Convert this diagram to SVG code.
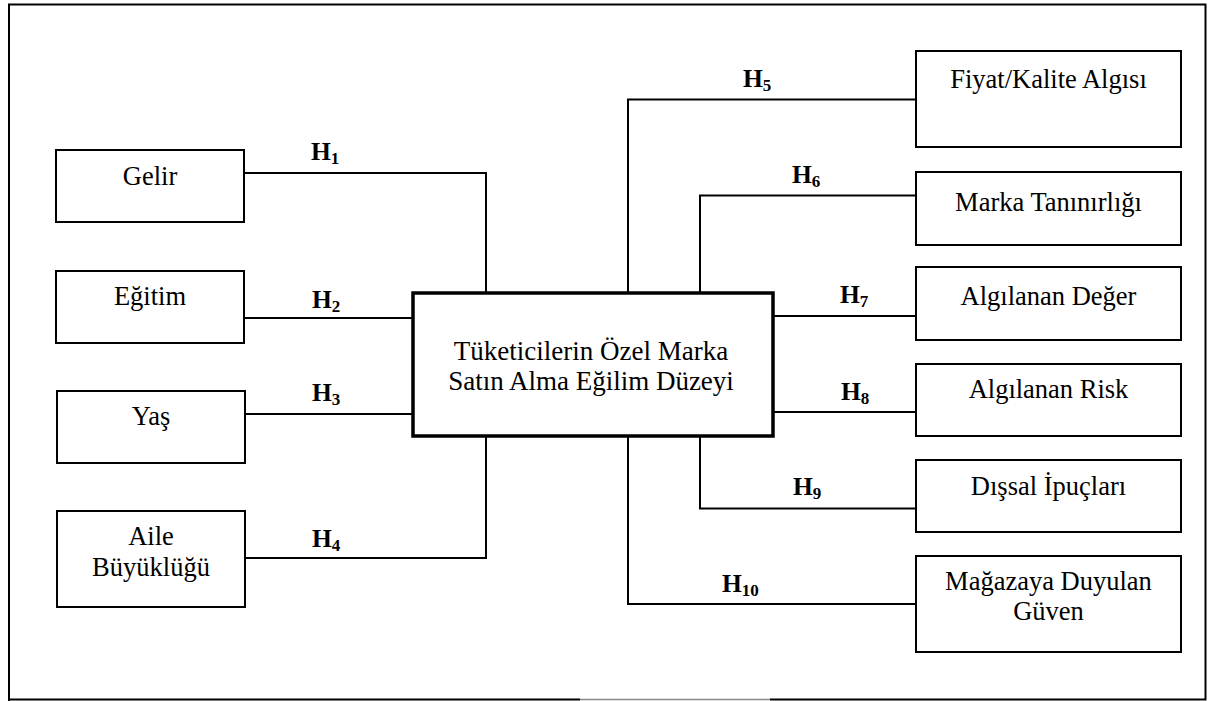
<svg xmlns="http://www.w3.org/2000/svg" width="1210" height="701" viewBox="0 0 1210 701">
<style>
.bg{fill:#ffffff}
.frame{fill:none;stroke:#000;stroke-width:2}
.box{fill:#fff;stroke:#000;stroke-width:2}
.main{fill:#fff;stroke:#000;stroke-width:3.5}
.ln{fill:none;stroke:#000;stroke-width:2}
text{font-family:'Liberation Serif','DejaVu Serif',serif}
.t{font-size:26.5px;fill:#000;text-anchor:middle}
.c{font-size:27px}
.h{font-size:25.5px;font-weight:bold;fill:#000}
.s{font-size:17px}
</style>
<rect class="bg" x="0" y="0" width="1210" height="701"/>
<g id="frame">
<path class="frame" d="M9,701 L9,4.5 L1205.5,4.5 L1205.5,699.5 L770,699.5"/>
<path class="frame" d="M580,699.5 L9,699.5"/>
<path d="M580,699.5 L770,699.5" fill="none" stroke="#888" stroke-width="1.5"/>
</g>
<g id="connectors">
<path class="ln" d="M244,173 L486,173 L486,293"/>
<path class="ln" d="M244,318 L413,318"/>
<path class="ln" d="M245,414 L413,414"/>
<path class="ln" d="M245,558 L486,558 L486,436"/>
<path class="ln" d="M628,293 L628,99.5 L916,99.5"/>
<path class="ln" d="M700,293 L700,195.5 L916,195.5"/>
<path class="ln" d="M773,316 L916,316"/>
<path class="ln" d="M773,412 L916,412"/>
<path class="ln" d="M700,436 L700,508.5 L916,508.5"/>
<path class="ln" d="M628,436 L628,604 L916,604"/>
</g>
<g id="labels">
<text class="h" x="311" y="160">H<tspan class="s" dy="4">1</tspan></text>
<text class="h" x="312" y="308">H<tspan class="s" dy="4">2</tspan></text>
<text class="h" x="312" y="401">H<tspan class="s" dy="4">3</tspan></text>
<text class="h" x="312" y="547">H<tspan class="s" dy="4">4</tspan></text>
<text class="h" x="743" y="87">H<tspan class="s" dy="4">5</tspan></text>
<text class="h" x="792" y="183">H<tspan class="s" dy="4">6</tspan></text>
<text class="h" x="840" y="303">H<tspan class="s" dy="4">7</tspan></text>
<text class="h" x="841" y="400">H<tspan class="s" dy="4">8</tspan></text>
<text class="h" x="793" y="495">H<tspan class="s" dy="4">9</tspan></text>
<text class="h" x="722" y="592">H<tspan class="s" dy="4">10</tspan></text>
</g>
<g id="node-center">
<rect class="main" x="413" y="293" width="360" height="143"/>
<text class="t c" x="591" y="360">Tüketicilerin Özel Marka</text>
<text class="t c" x="591" y="390">Satın Alma Eğilim Düzeyi</text>
</g>
<g id="node-gelir">
<rect class="box" x="56" y="150" width="188" height="72"/>
<text class="t" x="150" y="185">Gelir</text>
</g>
<g id="node-egitim">
<rect class="box" x="56" y="271" width="188" height="72"/>
<text class="t" x="150" y="305">Eğitim</text>
</g>
<g id="node-yas">
<rect class="box" x="57" y="391" width="188" height="72"/>
<text class="t" x="151" y="425">Yaş</text>
</g>
<g id="node-aile">
<rect class="box" x="57" y="511" width="188" height="96"/>
<text class="t" x="151" y="545">Aile</text>
<text class="t" x="151" y="576">Büyüklüğü</text>
</g>
<g id="node-fiyat">
<rect class="box" x="916" y="51" width="265" height="96"/>
<text class="t" x="1048.5" y="88">Fiyat/Kalite Algısı</text>
</g>
<g id="node-marka">
<rect class="box" x="916" y="172" width="265" height="73"/>
<text class="t" x="1048.5" y="211">Marka Tanınırlığı</text>
</g>
<g id="node-deger">
<rect class="box" x="916" y="267" width="265" height="73"/>
<text class="t" x="1048.5" y="305">Algılanan Değer</text>
</g>
<g id="node-risk">
<rect class="box" x="916" y="364" width="265" height="72"/>
<text class="t" x="1048.5" y="398">Algılanan Risk</text>
</g>
<g id="node-dissal">
<rect class="box" x="916" y="460" width="265" height="72"/>
<text class="t" x="1048.5" y="495">Dışsal İpuçları</text>
</g>
<g id="node-magaza">
<rect class="box" x="916" y="556" width="265" height="96"/>
<text class="t" x="1048.5" y="590">Mağazaya Duyulan</text>
<text class="t" x="1048.5" y="620">Güven</text>
</g>
</svg>
